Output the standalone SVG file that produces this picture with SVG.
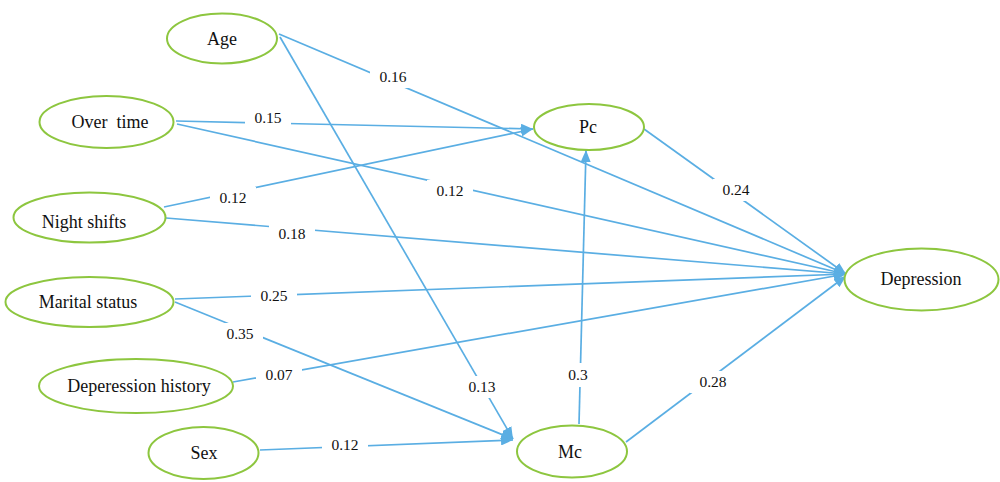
<svg xmlns="http://www.w3.org/2000/svg" width="1000" height="482" viewBox="0 0 1000 482">
  <defs>
    <marker id="arr" markerUnits="userSpaceOnUse" markerWidth="12" markerHeight="10" refX="12" refY="5" orient="auto">
      <path d="M0,0 L12,5 L0,10 z" fill="#5aaee3"/>
    </marker>
    <style>
      .node ellipse { fill: #ffffff; stroke: #8dc63f; stroke-width: 2; }
      .node text { font-family: "Liberation Serif", "Times New Roman", serif; font-size: 18px; fill: #111; text-anchor: middle; }
      .conn line { stroke: #5aaee3; stroke-width: 1.7; fill: none; }
      .conn line.a { marker-end: url(#arr); }
      .lbl rect { fill: #ffffff; }
      .lbl text { font-family: "Liberation Serif", "Times New Roman", serif; font-size: 15.5px; fill: #111; text-anchor: middle; }
    </style>
  </defs>
  <rect width="1000" height="482" fill="#ffffff"/>

  <g id="connectors" class="conn">
    <line class="a" x1="279" y1="34" x2="846" y2="274"/>
    <line class="a" x1="280" y1="37" x2="513" y2="439"/>
    <line class="a" x1="176" y1="121" x2="533" y2="129"/>
    <line class="a" x1="177" y1="124" x2="846" y2="274"/>
    <line class="a" x1="164" y1="207" x2="533" y2="129"/>
    <line class="a" x1="166" y1="218" x2="846" y2="274"/>
    <line class="a" x1="175" y1="299" x2="846" y2="274"/>
    <line class="a" x1="175" y1="302" x2="513" y2="439"/>
    <line class="a" x1="233" y1="382" x2="846" y2="274"/>
    <line class="a" x1="260" y1="450" x2="513" y2="440"/>
    <line class="a" x1="579" y1="424" x2="586" y2="150"/>
    <line class="a" x1="626" y1="442" x2="846" y2="276"/>
    <line class="a" x1="644" y1="129" x2="846" y2="274"/>
  </g>

  <g id="labels" class="lbl">
    <rect x="370" y="66" width="46" height="22"/><text x="393" y="82">0.16</text>
    <rect x="245" y="107" width="46" height="22"/><text x="268" y="123">0.15</text>
    <rect x="427" y="180" width="46" height="22"/><text x="450" y="196">0.12</text>
    <rect x="210" y="187" width="46" height="22"/><text x="233" y="203">0.12</text>
    <rect x="269" y="223" width="46" height="22"/><text x="292" y="239">0.18</text>
    <rect x="251" y="285" width="46" height="22"/><text x="274" y="301">0.25</text>
    <rect x="217" y="323" width="46" height="22"/><text x="240" y="339">0.35</text>
    <rect x="256" y="364" width="46" height="22"/><text x="279" y="380">0.07</text>
    <rect x="462" y="376" width="40" height="22"/><text x="482" y="392">0.13</text>
    <rect x="322" y="434" width="46" height="22"/><text x="345" y="450">0.12</text>
    <rect x="562" y="363" width="32" height="24"/><text x="578" y="380">0.3</text>
    <rect x="690" y="371" width="46" height="22"/><text x="713" y="387">0.28</text>
    <rect x="713" y="179" width="46" height="22"/><text x="736" y="195">0.24</text>
  </g>

  <g id="node-age" class="node"><ellipse cx="222" cy="38.5" rx="55" ry="25"/><text x="222" y="44.5">Age</text></g>
  <g id="node-overtime" class="node"><ellipse cx="106.5" cy="122" rx="67" ry="26"/><text x="110" y="128" xml:space="preserve">Over  time</text></g>
  <g id="node-nightshifts" class="node"><ellipse cx="89.5" cy="217.5" rx="76" ry="25"/><text x="84" y="228">Night shifts</text></g>
  <g id="node-marital" class="node"><ellipse cx="89.5" cy="302" rx="84" ry="25"/><text x="88" y="308">Marital status</text></g>
  <g id="node-dephistory" class="node"><ellipse cx="136" cy="386" rx="97" ry="27"/><text x="139" y="392">Deperession history</text></g>
  <g id="node-sex" class="node"><ellipse cx="203.5" cy="453" rx="55" ry="26"/><text x="204" y="459">Sex</text></g>
  <g id="node-pc" class="node"><ellipse cx="589" cy="127" rx="55" ry="23"/><text x="588" y="133">Pc</text></g>
  <g id="node-mc" class="node"><ellipse cx="572" cy="451.5" rx="55" ry="26"/><text x="570" y="458">Mc</text></g>
  <g id="node-depression" class="node"><ellipse cx="921.5" cy="279.5" rx="77" ry="31"/><text x="921" y="285">Depression</text></g>
</svg>
